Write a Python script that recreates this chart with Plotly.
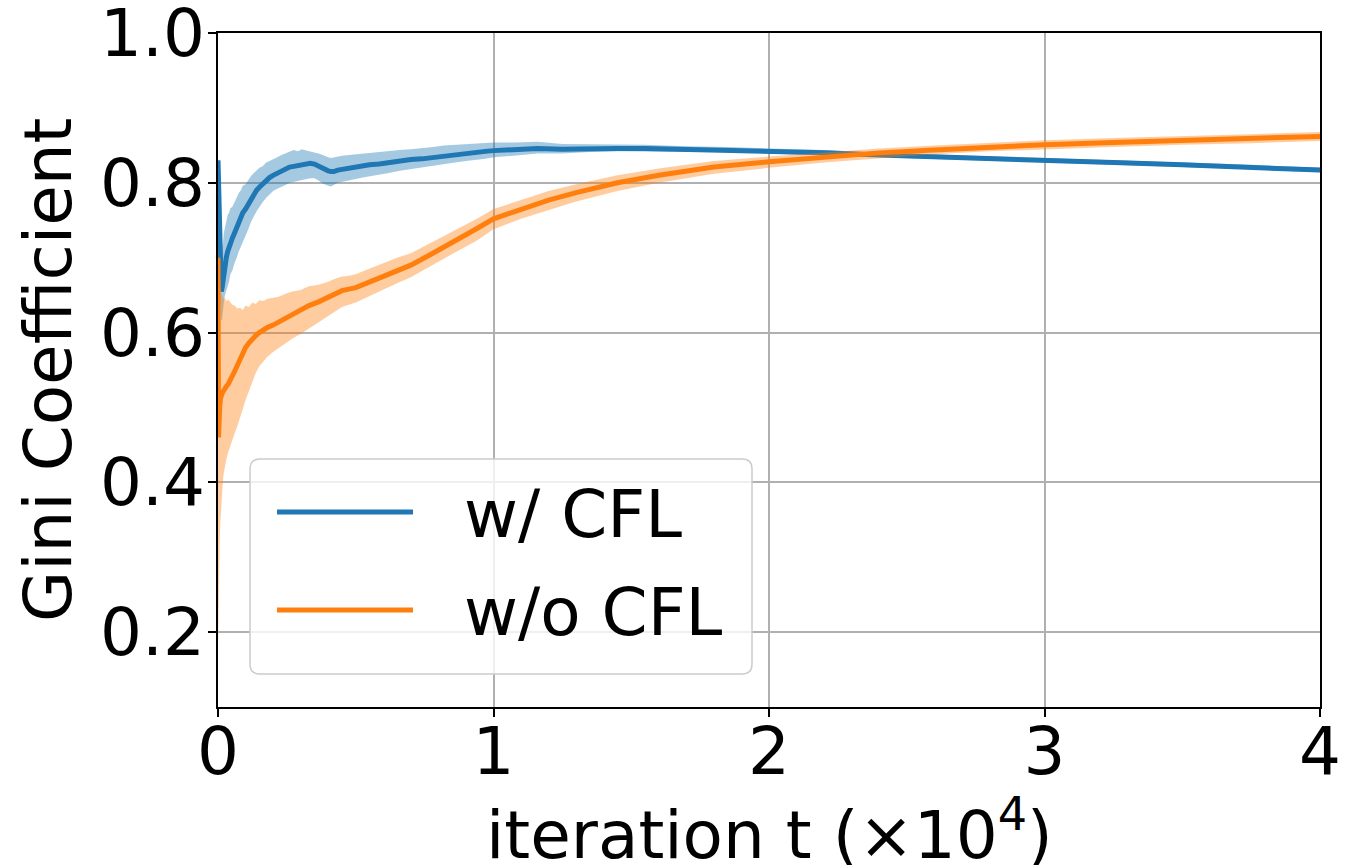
import plotly.graph_objects as go

# ---- data: iteration (x 1e4) vs Gini coefficient, mean and band bounds ----
cfl_x = [0.000, 0.002, 0.004, 0.006, 0.008, 0.010, 0.012, 0.015, 0.018, 0.021,
         0.025, 0.030, 0.035, 0.040, 0.045, 0.052, 0.060, 0.068, 0.075, 0.083,
         0.090, 0.100, 0.110, 0.120, 0.130, 0.140, 0.150, 0.162, 0.175, 0.187,
         0.200, 0.215, 0.230, 0.245, 0.260, 0.275, 0.290, 0.305, 0.320, 0.335,
         0.350, 0.365, 0.380, 0.390, 0.400, 0.410, 0.420, 0.435, 0.450, 0.475,
         0.500, 0.525, 0.550, 0.585, 0.620, 0.660, 0.700, 0.740, 0.780, 0.820,
         0.860, 0.900, 0.940, 0.970, 1.000, 1.080, 1.160, 1.250, 1.350, 1.450,
         1.550, 1.700, 1.850, 2.000, 2.200, 2.400, 2.600, 2.800, 3.000, 3.250,
         3.500, 3.750, 4.000]
cfl_mean = [0.830, 0.790, 0.745, 0.705, 0.685, 0.662, 0.655, 0.660, 0.668, 0.684,
            0.697, 0.700, 0.708, 0.714, 0.722, 0.726, 0.733, 0.741, 0.748, 0.753,
            0.760, 0.765, 0.772, 0.779, 0.785, 0.790, 0.794, 0.799, 0.803, 0.807,
            0.810, 0.813, 0.816, 0.819, 0.821, 0.822, 0.823, 0.825, 0.826, 0.826,
            0.825, 0.822, 0.819, 0.817, 0.816, 0.815, 0.815, 0.817, 0.818, 0.819,
            0.821, 0.822, 0.824, 0.825, 0.827, 0.829, 0.831, 0.832, 0.834, 0.836,
            0.838, 0.840, 0.841, 0.842, 0.843, 0.845, 0.846, 0.845, 0.846, 0.846,
            0.846, 0.845, 0.844, 0.842, 0.840, 0.837, 0.835, 0.833, 0.830, 0.827,
            0.824, 0.821, 0.817]
cfl_upper = [0.835, 0.820, 0.790, 0.760, 0.740, 0.722, 0.712, 0.716, 0.718, 0.733,
             0.742, 0.748, 0.757, 0.760, 0.766, 0.768, 0.774, 0.781, 0.786, 0.790,
             0.796, 0.798, 0.804, 0.809, 0.813, 0.816, 0.820, 0.822, 0.827, 0.829,
             0.831, 0.834, 0.837, 0.839, 0.841, 0.844, 0.842, 0.845, 0.843, 0.842,
             0.840, 0.839, 0.837, 0.835, 0.834, 0.833, 0.834, 0.835, 0.836, 0.837,
             0.838, 0.839, 0.840, 0.841, 0.842, 0.844, 0.845, 0.846, 0.848, 0.850,
             0.851, 0.852, 0.853, 0.853, 0.854, 0.854, 0.855, 0.852, 0.852, 0.851,
             0.851, 0.849, 0.848, 0.846, 0.844, 0.840, 0.838, 0.836, 0.833, 0.830,
             0.827, 0.824, 0.820]
cfl_lower = [0.800, 0.740, 0.700, 0.660, 0.640, 0.622, 0.615, 0.618, 0.625, 0.640,
             0.650, 0.655, 0.662, 0.668, 0.678, 0.683, 0.693, 0.700, 0.708, 0.715,
             0.722, 0.730, 0.738, 0.748, 0.755, 0.762, 0.768, 0.774, 0.780, 0.785,
             0.789, 0.792, 0.795, 0.797, 0.800, 0.801, 0.802, 0.804, 0.805, 0.806,
             0.806, 0.803, 0.799, 0.797, 0.796, 0.795, 0.797, 0.800, 0.802, 0.803,
             0.805, 0.807, 0.809, 0.811, 0.813, 0.816, 0.818, 0.820, 0.822, 0.825,
             0.827, 0.829, 0.831, 0.832, 0.834, 0.837, 0.839, 0.839, 0.841, 0.842,
             0.842, 0.841, 0.841, 0.839, 0.837, 0.834, 0.832, 0.830, 0.827, 0.824,
             0.821, 0.818, 0.814]

nocfl_x = [0.000, 0.001, 0.002, 0.004, 0.006, 0.009, 0.012, 0.016, 0.020, 0.025,
           0.030, 0.037, 0.045, 0.052, 0.060, 0.070, 0.080, 0.090, 0.100, 0.112,
           0.125, 0.137, 0.150, 0.165, 0.180, 0.200, 0.220, 0.245, 0.270, 0.300,
           0.330, 0.365, 0.400, 0.425, 0.450, 0.475, 0.500, 0.540, 0.580, 0.615,
           0.650, 0.700, 0.780, 0.860, 0.940, 1.000, 1.100, 1.200, 1.300, 1.450,
           1.600, 1.800, 2.000, 2.200, 2.400, 2.600, 2.800, 3.000, 3.250, 3.500,
           3.750, 4.000]
nocfl_mean = [0.700, 0.600, 0.460, 0.480, 0.500, 0.512, 0.518, 0.520, 0.522, 0.526,
              0.528, 0.531, 0.536, 0.541, 0.548, 0.556, 0.565, 0.572, 0.580, 0.586,
              0.592, 0.596, 0.600, 0.604, 0.607, 0.610, 0.614, 0.619, 0.624, 0.630,
              0.636, 0.641, 0.647, 0.652, 0.656, 0.658, 0.660, 0.666, 0.672, 0.677,
              0.682, 0.690, 0.706, 0.722, 0.739, 0.752, 0.765, 0.777, 0.787, 0.800,
              0.810, 0.821, 0.828, 0.834, 0.840, 0.844, 0.848, 0.851, 0.854, 0.857,
              0.859, 0.862]
nocfl_upper = [0.710, 0.705, 0.690, 0.680, 0.670, 0.660, 0.652, 0.648, 0.645, 0.646,
               0.642, 0.644, 0.640, 0.637, 0.636, 0.632, 0.633, 0.630, 0.636, 0.634,
               0.640, 0.638, 0.643, 0.642, 0.645, 0.646, 0.648, 0.652, 0.655, 0.657,
               0.662, 0.664, 0.668, 0.672, 0.675, 0.676, 0.678, 0.684, 0.690, 0.695,
               0.700, 0.706, 0.721, 0.736, 0.752, 0.765, 0.777, 0.789, 0.798, 0.810,
               0.819, 0.829, 0.835, 0.841, 0.846, 0.850, 0.854, 0.857, 0.860, 0.863,
               0.865, 0.868]
nocfl_lower = [0.180, 0.200, 0.230, 0.280, 0.320, 0.350, 0.370, 0.392, 0.410, 0.420,
               0.430, 0.440, 0.450, 0.457, 0.465, 0.475, 0.485, 0.498, 0.510, 0.523,
               0.535, 0.546, 0.555, 0.562, 0.568, 0.574, 0.580, 0.586, 0.592, 0.598,
               0.605, 0.614, 0.622, 0.628, 0.634, 0.637, 0.640, 0.647, 0.654, 0.660,
               0.666, 0.674, 0.690, 0.707, 0.723, 0.738, 0.752, 0.764, 0.775, 0.789,
               0.800, 0.812, 0.820, 0.827, 0.833, 0.838, 0.842, 0.845, 0.848, 0.851,
               0.853, 0.856]

series = [
    ("w/ CFL", cfl_x, cfl_mean, cfl_upper, cfl_lower, "#1f77b4", "rgba(31,119,180,0.4)"),
    ("w/o CFL", nocfl_x, nocfl_mean, nocfl_upper, nocfl_lower, "#ff7f0e", "rgba(255,127,14,0.4)"),
]

x_ticks = [0, 1, 2, 3, 4]
y_ticks = [0.2, 0.4, 0.6, 0.8, 1.0]

FONT = "DejaVu Sans"
FS = 66
fig = go.Figure()

for name, xs, mean, up, lo, color, band in series:
    fig.add_trace(go.Scatter(
        x=list(xs) + list(xs)[::-1], y=list(up) + list(lo)[::-1],
        fill="toself", fillcolor=band, line=dict(width=0), mode="lines",
        hoverinfo="skip", showlegend=False))
    fig.add_trace(go.Scatter(
        x=xs, y=mean, mode="lines", name=name,
        line=dict(color=color, width=5), showlegend=False))

# ---- plot-area geometry (pixels) ----
W, H = 1345, 865
L, R, T, B = 218, 1320, 33, 707


def px(xp):
    return (xp - L) / (R - L)


def py(yp):
    return (B - yp) / (B - T)


# legend box with rounded corners
x0, x1, y0, y1, r = 250, 752, 459, 674, 10
path = (f"M {px(x0 + r)} {py(y0)} L {px(x1 - r)} {py(y0)} "
        f"Q {px(x1)} {py(y0)} {px(x1)} {py(y0 + r)} "
        f"L {px(x1)} {py(y1 - r)} Q {px(x1)} {py(y1)} {px(x1 - r)} {py(y1)} "
        f"L {px(x0 + r)} {py(y1)} Q {px(x0)} {py(y1)} {px(x0)} {py(y1 - r)} "
        f"L {px(x0)} {py(y0 + r)} Q {px(x0)} {py(y0)} {px(x0 + r)} {py(y0)} Z")
shapes = [dict(type="path", path=path, xref="paper", yref="paper",
               fillcolor="rgba(255,255,255,0.8)", line=dict(color="#cccccc", width=1.5),
               layer="above")]
annotations = []
for (name, *_rest), ly in zip(series, [512, 610]):
    color = _rest[4]
    shapes.append(dict(type="line", xref="paper", yref="paper",
                       x0=px(277), x1=px(413), y0=py(ly), y1=py(ly),
                       line=dict(color=color, width=5), layer="above"))
    annotations.append(dict(text=name, xref="paper", yref="paper",
                            x=px(462), y=py(ly + 2), xanchor="left", yanchor="middle",
                            showarrow=False, font=dict(family=FONT, size=FS, color="black")))

# axis titles
annotations.append(dict(text="iteration t (×10<sup>4</sup>)", xref="paper", yref="paper",
                        x=0.5, y=py(831), xanchor="center", yanchor="middle",
                        showarrow=False, font=dict(family=FONT, size=FS, color="black")))
annotations.append(dict(text="Gini Coefficient", xref="paper", yref="paper",
                        x=px(48), y=0.5, xanchor="center", yanchor="middle", textangle=-90,
                        showarrow=False, font=dict(family=FONT, size=FS, color="black")))

fig.update_layout(
    width=W, height=H,
    margin=dict(l=L, r=W - R, t=T, b=H - B, autoexpand=False),
    paper_bgcolor="white", plot_bgcolor="white",
    font=dict(family=FONT, size=FS, color="black"),
    shapes=shapes, annotations=annotations,
    showlegend=False,
)
fig.update_xaxes(
    range=[0, 4], tickvals=x_ticks, ticktext=[str(v) for v in x_ticks],
    showgrid=True, gridcolor="#b0b0b0", gridwidth=1.6,
    showline=True, mirror=True, linecolor="black", linewidth=1.8,
    ticks="outside", ticklen=8, tickwidth=1.5, tickcolor="black",
    tickfont=dict(size=FS), zeroline=False, automargin=False,
    ticklabelstandoff=-22, ticklabeloverflow="allow",
)
fig.update_yaxes(
    range=[0.0999, 1.0001], tickvals=y_ticks, ticktext=[f"{v:.1f}" for v in y_ticks],
    showgrid=True, gridcolor="#b0b0b0", gridwidth=1.6,
    showline=True, mirror=True, linecolor="black", linewidth=1.8,
    ticks="outside", ticklen=8, tickwidth=1.5, tickcolor="black",
    tickfont=dict(size=FS), zeroline=False, automargin=False,
    ticklabelstandoff=-10, ticklabeloverflow="allow",
)

fig.write_html("out.html")
